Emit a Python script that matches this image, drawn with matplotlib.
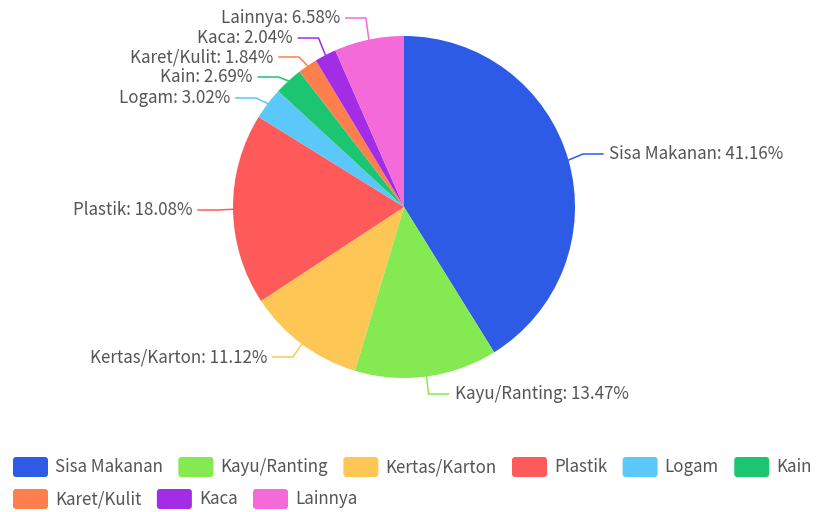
import numpy as np
import matplotlib
matplotlib.use("Agg")
import matplotlib.pyplot as plt
from matplotlib.patches import FancyBboxPatch

categories = ["Sisa Makanan", "Kayu/Ranting", "Kertas/Karton", "Plastik", "Logam",
              "Kain", "Karet/Kulit", "Kaca", "Lainnya"]
values = [41.16, 13.47, 11.12, 18.08, 3.02, 2.69, 1.84, 2.04, 6.58]
colors = ["#2d5be6", "#85e952", "#fec654", "#fe5a5a", "#5ac8f8",
          "#1cc56f", "#fe7f4e", "#a32de6", "#f46ad8"]
# label vertical positions (pixels from top) after overlap adjustment
label_y_px = [154, 394, 357, 210, 98, 77, 57, 38, 18]

plt.rcParams['font.family'] = ['Noto Sans CJK SC', 'DejaVu Sans']
W, H = 819, 512
fig = plt.figure(figsize=(W / 100, H / 100), dpi=100)
ax = fig.add_axes([0, 0, 1, 1])

cx, cy, R = 404, H - 207, 171
wedges, _ = ax.pie(values, colors=colors, startangle=90, counterclock=False,
                   center=(cx, cy), radius=R, frame=True,
                   wedgeprops=dict(linewidth=0))
ax.set_xlim(0, W)
ax.set_ylim(0, H)
ax.axis('off')

FS = 12.2
text_color = "#555555"
total = sum(values)
ang = 90.0
for name, v, col, ly in zip(categories, values, colors, label_y_px):
    span = v / total * 360.0
    mid = np.deg2rad(ang - span / 2)
    ang -= span
    ax_ = cx + R * np.cos(mid)
    ay_ = cy + R * np.sin(mid)
    sign = 1 if np.cos(mid) >= 0 else -1
    by = H - ly
    bx = cx + (R + 15) * np.cos(mid)
    cxp = bx + sign * 20
    ax.plot([ax_, bx, cxp], [ay_, by, by], color=col, lw=1.1,
            solid_joinstyle='miter')
    ax.text(cxp + sign * 6, by, f"{name}: {v:.2f}%", ha='left' if sign > 0 else 'right',
            va='center', fontsize=FS, color=text_color)

# legend
fig.canvas.draw()
renderer = fig.canvas.get_renderer()
x = 13
row_y = [H - 467, H - 499]
row = 0
icon_w, icon_h = 35, 20
for name, col in zip(categories, colors):
    t = ax.text(0, 0, name, fontsize=FS, color=text_color, va='center', ha='left')
    w = t.get_window_extent(renderer).width
    if x + icon_w + 7 + w > W + 12:
        row += 1
        x = 13
    y = row_y[row]
    ax.add_patch(FancyBboxPatch((x + 3, y - icon_h / 2 + 3), icon_w - 6, icon_h - 6,
                                boxstyle="round,pad=3", fc=col, ec='none'))
    t.set_position((x + icon_w + 7, y))
    x = x + icon_w + 7 + w + 15.5

fig.savefig("out.png", dpi=100, facecolor='white')
